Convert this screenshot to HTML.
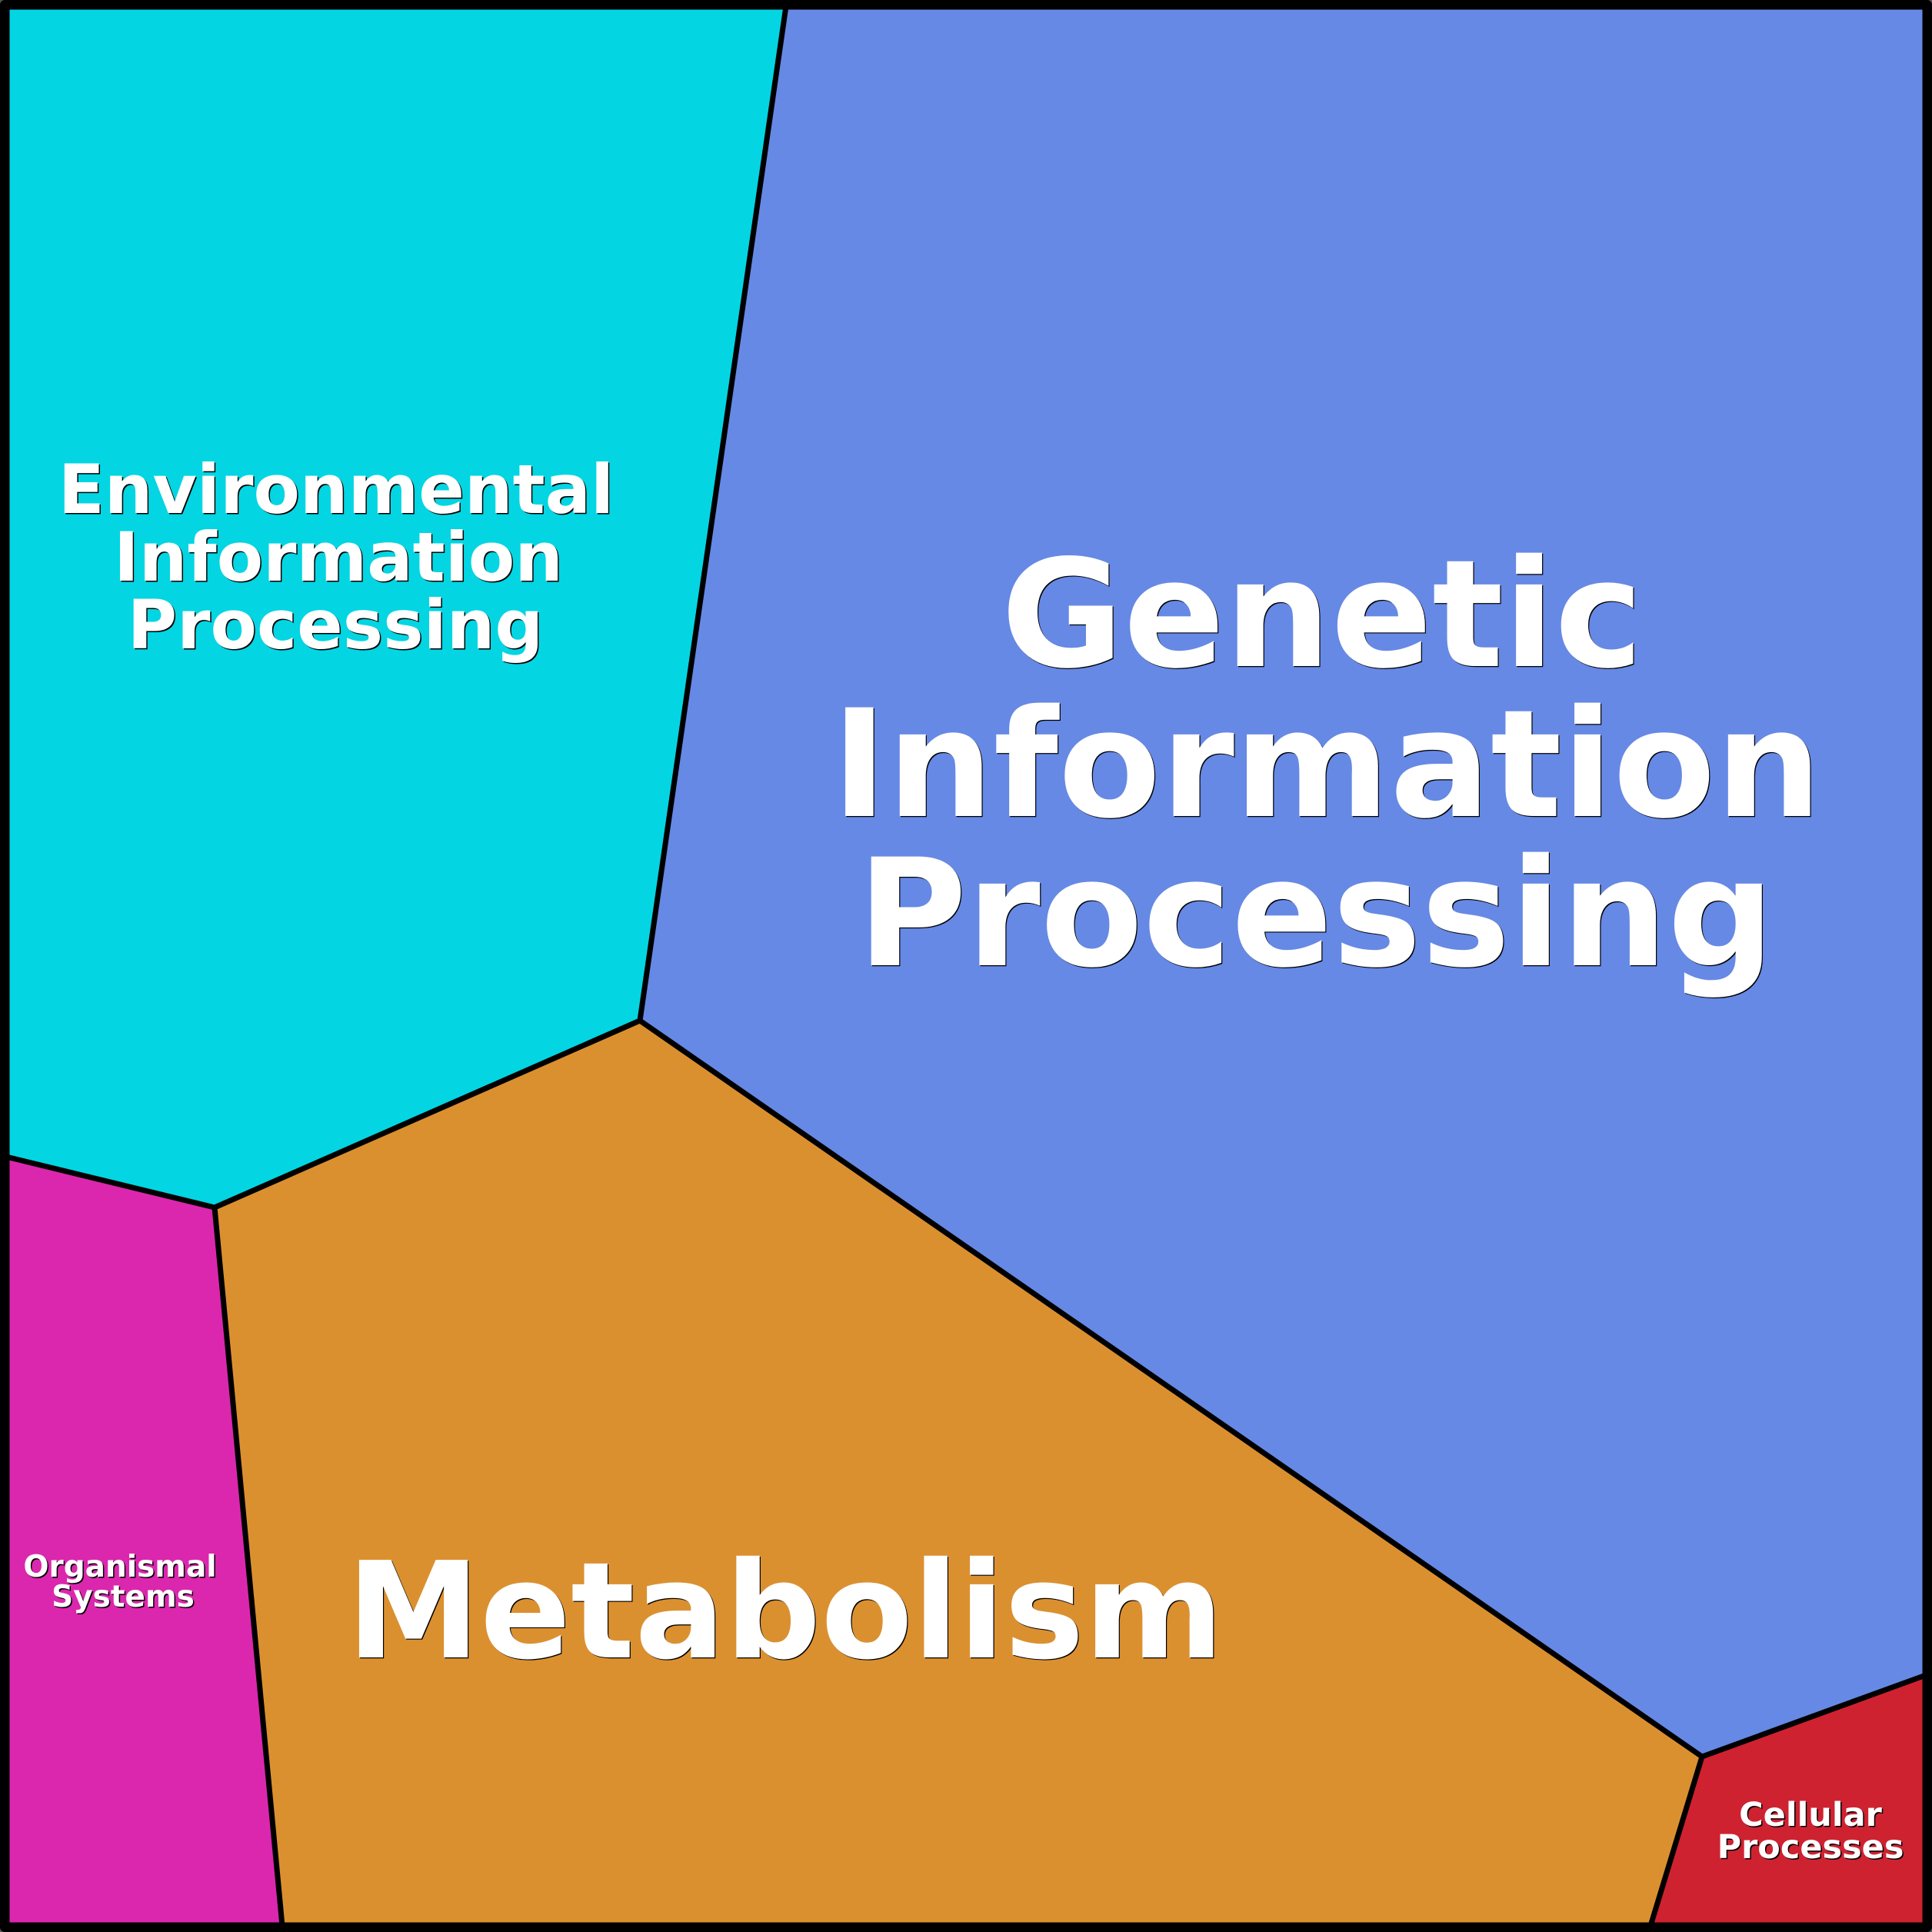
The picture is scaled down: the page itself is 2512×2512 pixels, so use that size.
<!DOCTYPE html>
<html>
<head>
<meta charset="utf-8">
<style>
html,body{margin:0;padding:0;background:#555;width:2512px;height:2512px;overflow:hidden}
svg{display:block}
text{font-family:"DejaVu Sans",sans-serif;font-weight:bold;text-anchor:middle}
.s{fill:#000}
.w{fill:#fff}
</style>
</head>
<body>
<svg xmlns="http://www.w3.org/2000/svg" width="2512" height="2512" viewBox="0 0 2512 2512">
<polygon points="6,6 1022,6 832,1327 279,1570 6,1504" fill="#04d5e2"/>
<polygon points="1022,6 2506,6 2506,2177 2213,2284 832,1327" fill="#6689e5"/>
<polygon points="6,1504 279,1570 367,2506 6,2506" fill="#db27ae"/>
<polygon points="279,1570 832,1327 2213,2284 2145,2506 367,2506" fill="#db9030"/>
<polygon points="2213,2284 2506,2177 2506,2506 2145,2506" fill="#cf2231"/>
<g fill="none" stroke="#000" stroke-width="7" stroke-linejoin="round">
<polyline points="1022,8 832,1327 279,1570 8,1504"/>
<polyline points="832,1327 2213,2284 2504,2178"/>
<line x1="279" y1="1570" x2="367" y2="2504"/>
<line x1="2213" y1="2284" x2="2146" y2="2504"/>
</g>
<rect x="6.25" y="6.25" width="2499.5" height="2499.5" fill="none" stroke="#000" stroke-width="12.5" stroke-linejoin="round"/>

<g font-size="88">
<g class="s" transform="translate(1.5,1.5)"><text x="437" y="667">Environmental</text><text x="440" y="755">Information</text><text x="436" y="843">Processing</text></g>
<g class="w"><text x="437" y="667">Environmental</text><text x="440" y="755">Information</text><text x="436" y="843">Processing</text></g>
</g>
<g font-size="194">
<g class="s" transform="translate(1.2,1.2)"><text x="1719" y="866">Genetic</text><text x="1725" y="1061">Information</text><text x="1711" y="1255">Processing</text></g>
<g class="w"><text x="1719" y="866">Genetic</text><text x="1725" y="1061">Information</text><text x="1711" y="1255">Processing</text></g>
</g>
<g font-size="174">
<text class="s" x="1022.2" y="2156.2">Metabolism</text>
<text class="w" x="1021" y="2155">Metabolism</text>
</g>
<g font-size="39">
<g class="s" transform="translate(1.5,1.5)"><text x="156" y="2050">Organismal</text><text x="160" y="2089">Systems</text></g>
<g class="w"><text x="156" y="2050">Organismal</text><text x="160" y="2089">Systems</text></g>
</g>
<g font-size="43">
<g class="s" transform="translate(1.5,1.5)"><text x="2354" y="2374">Cellular</text><text x="2354" y="2416">Processes</text></g>
<g class="w"><text x="2354" y="2374">Cellular</text><text x="2354" y="2416">Processes</text></g>
</g>
</svg>
</body>
</html>
